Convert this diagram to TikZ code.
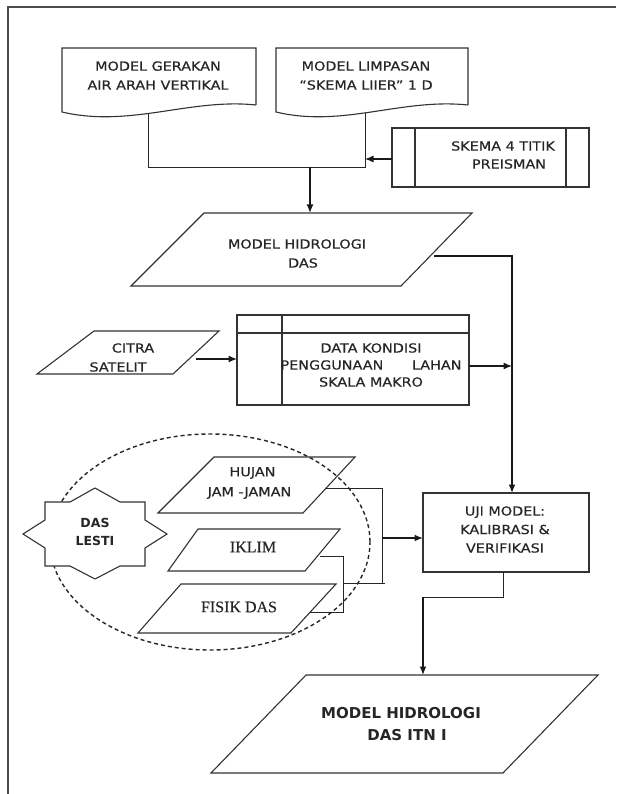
\documentclass[tikz,border=0pt]{standalone}
\usepackage{fontspec}
\setmainfont{DejaVu Sans}[FakeStretch=1.15]
\newfontfamily\regf{DejaVu Sans}[FakeStretch=1.15,FakeBold=0.5]
\newfontfamily\bldf{DejaVu Sans}
\newfontfamily\serf{Liberation Serif}[FakeBold=0.3]
\usetikzlibrary{arrows.meta}
\begin{document}
\begin{tikzpicture}[x=1pt,y=-1pt,
  shp/.style={draw=black!80, line width=1.1pt, fill=white, line join=miter},
  txt/.style={font=\regf\fontsize{12.5}{19}\selectfont, align=center, inner sep=0pt, text=black!85},
  boldtxt/.style={font=\bldf\bfseries\fontsize{12.5}{18}\selectfont, align=center, inner sep=0pt, text=black!85},
  sertxt/.style={font=\serf\fontsize{16}{19}\selectfont, align=center, inner sep=0pt, text=black!85},
  thinln/.style={draw=black!85, line width=0.9pt},
  arr/.style={draw=black!90, line width=1.5pt, -{Latex[length=8.5pt,width=7pt]}},
  marr/.style={draw=black!90, line width=1.2pt, -{Latex[length=8.5pt,width=7pt]}}]
\useasboundingbox (0,0) rectangle (616,794);
% outer frame (only left and top edges fall inside the picture)
\draw[draw=black!70, line width=2pt] (8,794) -- (8,7) -- (616,7);

% ---------- connector coordinates
\coordinate (d1b) at (148,114);
\coordinate (d1j) at (148,167);
\coordinate (d2b) at (365,113);
\coordinate (d2j) at (365,167);
\coordinate (jn) at (310,167);
\coordinate (mhdin) at (310,213);
\coordinate (skin) at (365,159);
\coordinate (skout) at (392,159);
\coordinate (mhdout) at (434,256);
\coordinate (bustop) at (512,256);
\coordinate (ujitop) at (512,493);
\coordinate (citout) at (196,359);
\coordinate (datin) at (237,359);
\coordinate (datout) at (469,366);
\coordinate (busdat) at (512,366);
\coordinate (hujout) at (326,488);
\coordinate (hbus) at (382,488);
\coordinate (hbusb) at (382,583);
\coordinate (fisj) at (343,583);
\coordinate (fisr) at (385,583);
\coordinate (iklout) at (320,556);
\coordinate (iklc) at (343,556);
\coordinate (iklb) at (343,612);
\coordinate (fisin) at (310,612);
\coordinate (busmid) at (382,538);
\coordinate (ujiin) at (423,538);
\coordinate (ujiout) at (503,572);
\coordinate (ujij) at (503,597);
\coordinate (finj) at (423,597);
\coordinate (finin) at (423,675);

% ---------- top documents
\draw[shp] (256,105) -- (256,48) -- (62,48) -- (62,112)
  .. controls (130,128) and (190,98) .. (256,105);
\node[txt] (doc1) at (158,75.5) {MODEL GERAKAN\\AIR ARAH VERTIKAL};
\draw[shp] (468,105) -- (468,48) -- (276,48) -- (276,112)
  .. controls (343,128) and (401,98) .. (468,105);
\node[txt] (doc2) at (366,75.5) {MODEL LIMPASAN\\“SKEMA LIIER” 1 D};

% predefined process
\draw[shp] (392,128) rectangle (589,187);
\draw[shp] (415,128) -- (415,187) (566,128) -- (566,187);
\node[txt, font=\regf\fontsize{12.5}{18}\selectfont] (skema) at (503,155) {SKEMA 4 TITIK\\\hspace*{12pt}PREISMAN};

\draw[thinln] (d1b) -- (d1j) -- (d2j) -- (d2b);
\draw[marr] (skout) -- (skin);
\draw[arr] (jn) -- (mhdin);

% MODEL HIDROLOGI DAS
\draw[shp] (204,213) -- (472,213) -- (401,286) -- (131,286) -- cycle;
\node[txt] (mhd) at (297,253.5) {MODEL HIDROLOGI\\\hspace*{12pt}DAS};
\draw[arr] (mhdout) -- (bustop) -- (ujitop);

% CITRA SATELIT
\draw[shp] (94,331) -- (219,331) -- (173,374) -- (37,374) -- cycle;
\node[txt] (citra) at (118,357.5) {\hspace*{30pt}CITRA\\SATELIT};
\draw[marr] (citout) -- (datin);

% DATA KONDISI (internal storage)
\draw[shp] (237,315) rectangle (469,405);
\draw[shp] (237,333) -- (469,333) (282,315) -- (282,405);
\node[txt, font=\regf\fontsize{12.5}{17}\selectfont] (data) at (371,365)
  {DATA KONDISI\\\makebox[181pt][s]{PENGGUNAAN\hfill LAHAN}\\SKALA MAKRO};
\draw[marr] (datout) -- (busdat);

% UJI MODEL
\draw[shp] (423,493) rectangle (589,572);
\node[txt, font=\regf\fontsize{12.5}{18.5}\selectfont] (uji) at (505,529.5) {UJI MODEL:\\KALIBRASI \&\\VERIFIKASI};

% input data parallelograms
\draw[shp] (214,457) -- (355,457) -- (303,513) -- (158,513) -- cycle;
\node[txt, font=\regf\fontsize{12.5}{20}\selectfont] (hujan) at (249.5,483) {\hspace*{6pt}HUJAN\\JAM -JAMAN};
\draw[shp] (198,529) -- (340,529) -- (305,571) -- (168,571) -- cycle;
\node[sertxt] (iklim) at (253,547) {IKLIM};
\draw[shp] (181,584) -- (336,584) -- (291,633) -- (138,633) -- cycle;
\node[sertxt] (fisik) at (239,607) {FISIK DAS};

\draw[thinln] (hujout) -- (hbus) -- (hbusb);
\draw[thinln] (fisj) -- (fisr);
\draw[thinln] (iklout) -- (iklc) -- (iklb) -- (fisin);
\draw[arr] (busmid) -- (ujiin);

% dashed ellipse
\draw[draw=black!85, line width=1.4pt, dash pattern=on 4pt off 3pt] (210,542) ellipse [x radius=160pt, y radius=108pt];

% DAS LESTI star
\draw[shp] (95,488) -- (120,502) -- (145,502) -- (145,520) -- (167,534) -- (145,548)
  -- (145,566) -- (120,566) -- (95,579) -- (70,566) -- (45,566) -- (45,548)
  -- (23,534) -- (45,520) -- (45,502) -- (70,502) -- cycle;
\node[boldtxt] (lesti) at (95,532) {DAS\\LESTI};

% final output
\draw[thinln] (ujiout) -- (ujij) -- (finj);
\draw[arr] (finj) -- (finin);
\draw[shp] (306,675) -- (598,675) -- (503,773) -- (211,773) -- cycle;
\node[boldtxt, font=\bldf\bfseries\fontsize{15}{22}\selectfont] (final) at (401,724) {MODEL HIDROLOGI\\\hspace*{12pt}DAS ITN I};
\end{tikzpicture}
\end{document}
